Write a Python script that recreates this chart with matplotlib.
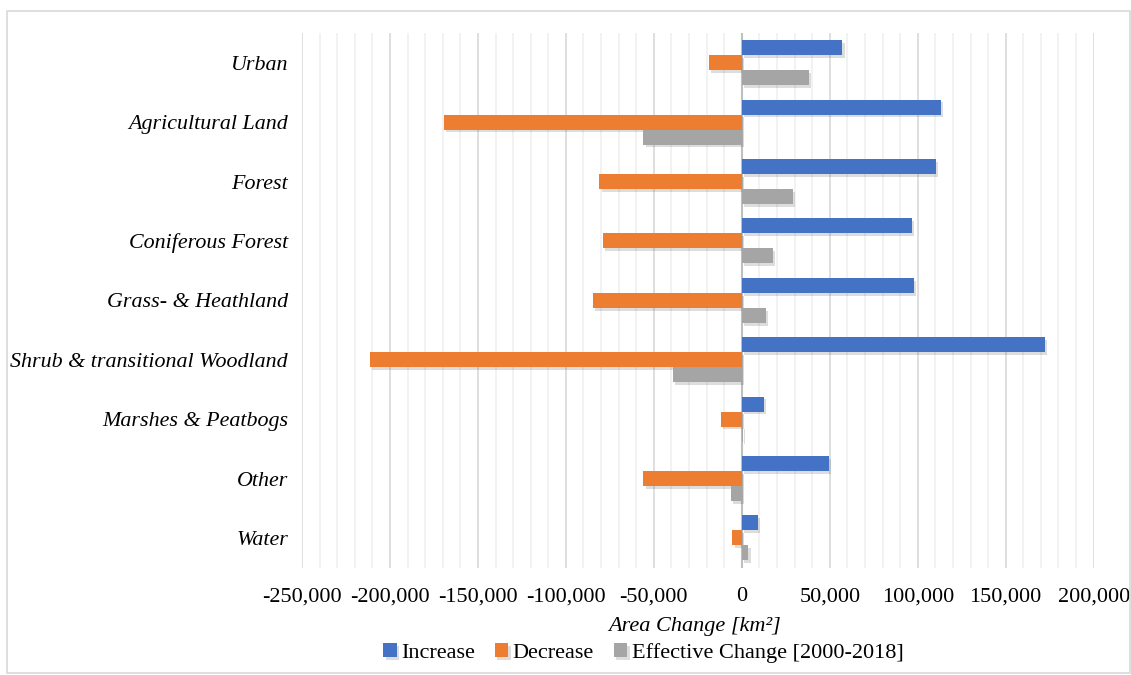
import numpy as np
import matplotlib.pyplot as plt
import matplotlib.patheffects as pe
from matplotlib.patches import Rectangle
from matplotlib.ticker import FuncFormatter, MultipleLocator

plt.rcParams["font.family"] = "Liberation Serif"
plt.rcParams["font.size"] = 16

# Land cover classes (top to bottom)
categories = ["Urban", "Agricultural Land", "Forest", "Coniferous Forest",
              "Grass- & Heathland", "Shrub & transitional Woodland",
              "Marshes & Peatbogs", "Other", "Water"]
increase = [57200, 113200, 110400, 96600, 98100, 172100, 12500, 49600, 9100]
decrease = [-18750, -169500, -80900, -78800, -84500, -211200, -11900, -55900, -5300]
effective = [38300, -55900, 29300, 17900, 13600, -39200, 600, -6300, 3800]

series = [("Increase", increase, "#4472C4"),
          ("Decrease", decrease, "#ED7D31"),
          ("Effective Change [2000-2018]", effective, "#A5A5A5")]

fig = plt.figure(figsize=(11.31, 6.75), dpi=100)
ax = fig.add_axes([0.267, 0.159, 0.700, 0.792])

# outer chart border
fig.patches.append(Rectangle((7 / 1131, 0.003), 1 - 8 / 1131, 1 - 11 / 675 - 0.003,
                             transform=fig.transFigure, fill=False,
                             edgecolor="#D9D9D9", linewidth=1.2))

y = np.arange(len(categories))
h = 0.2525
shadow = [pe.SimplePatchShadow(offset=(1.5, -2), alpha=0.18, shadow_rgbFace="#444444"), pe.Normal()]
for i, (name, vals, col) in enumerate(series):
    bars = ax.barh(y + (i - 1) * h, vals, height=h, color=col, label=name, zorder=3)
    for b in bars:
        b.set_path_effects(shadow)

ax.set_ylim(len(categories) - 0.5, -0.5)
ax.set_yticks(y)
ax.set_yticklabels(categories, fontstyle="italic", fontsize=15.8)
ax.set_xlim(-250000, 200000)
ax.xaxis.set_major_locator(MultipleLocator(50000))
ax.xaxis.set_minor_locator(MultipleLocator(10000))
ax.xaxis.set_major_formatter(FuncFormatter(lambda v, p: f"{v:,.0f}"))
ax.grid(axis="x", which="minor", color="#F0F0F0", linewidth=1.2, zorder=0)
ax.grid(axis="x", which="major", color="#D9D9D9", linewidth=1.2, zorder=0)
ax.axvline(0, color="#BFBFBF", linewidth=1.5, zorder=2)
ax.tick_params(axis="both", which="both", length=0)
ax.tick_params(axis="x", pad=14)
ax.tick_params(axis="y", pad=10)
for s in ax.spines.values():
    s.set_visible(False)

fig.text(0.614, 1 - 627 / 675, "Area Change [km²]", fontstyle="italic",
         ha="center", va="center", fontsize=16)

fig.legend(loc="center", bbox_to_anchor=(0.569, 1 - 653 / 675), ncol=3, frameon=False,
           handlelength=0.6, handleheight=0.6, handletextpad=0.2, columnspacing=0.9,
           fontsize=16)

plt.savefig("out.png", dpi=100)
